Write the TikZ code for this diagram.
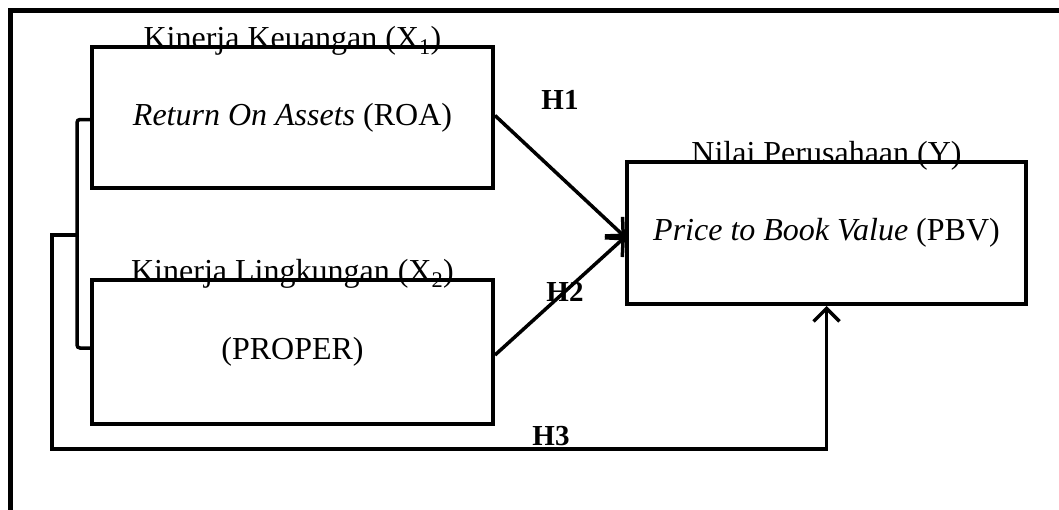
\documentclass[tikz,border=0pt]{standalone}
\usepackage{fontspec}
\setmainfont{Liberation Serif}
\usetikzlibrary{arrows.meta,positioning}

\begin{document}
\begin{tikzpicture}[x=1pt,y=-1pt,
    varbox/.style={draw,line width=4pt,minimum width=401pt,minimum height=142pt,
      inner sep=0pt,align=center,font=\fontsize{32}{38}\selectfont},
    varlabel/.style={anchor=base,inner sep=0pt,font=\fontsize{32}{38}\selectfont},
    hyp/.style={font=\fontsize{29}{33}\selectfont\bfseries,inner sep=0pt},
    link/.style={line width=3.5pt},
    arrow/.style={line width=3.5pt,-{Straight Barb[length=13pt,width=26pt]}}
  ]
    \useasboundingbox (0,0) rectangle (1059,509);
    \draw[line width=5pt] (10,515) -- (10,10) -- (1065,10);
    \node[varbox,minimum height=141pt] (roa) at (292.5,117.5) {\textit{Return On Assets} (ROA)};
    \node[varbox,minimum height=144pt] (proper) at (292.5,352) {(PROPER)};
    \node[varbox,minimum width=399pt] (pbv) at (826.5,233) {\textit{Price to Book Value} (PBV)};
    \node[varlabel] (x1) at ([yshift=-3pt]roa.north) {Kinerja Keuangan (X\textsubscript{1})};
    \node[varlabel] (x2) at ([yshift=-3pt]proper.north) {Kinerja Lingkungan (X\textsubscript{2})};
    \node[varlabel] (y) at ([yshift=-3pt]pbv.north) {Nilai Perusahaan (Y)};
    \node[hyp] (h1) at (560,100) {H1};
    \node[hyp] (h2) at (565,292) {H2};
    \node[hyp] (h3) at (551,436) {H3};
    \draw[arrow] ([yshift=2pt]roa.east) -- ([yshift=-4pt]pbv.west);
    \draw[arrow] ([yshift=-3pt]proper.east) -- ([yshift=-4pt]pbv.west);
    % bracket joining X1 and X2
    \draw[link,rounded corners=3pt] ([yshift=-2pt]roa.west) -- ++(-13,0) |- ([yshift=4pt]proper.west);
    \coordinate (join) at (79,235);
    \draw[arrow] (join) -- ++(-27,0) -- ++(0,214) -| (pbv.south);
  \end{tikzpicture}
\end{document}
